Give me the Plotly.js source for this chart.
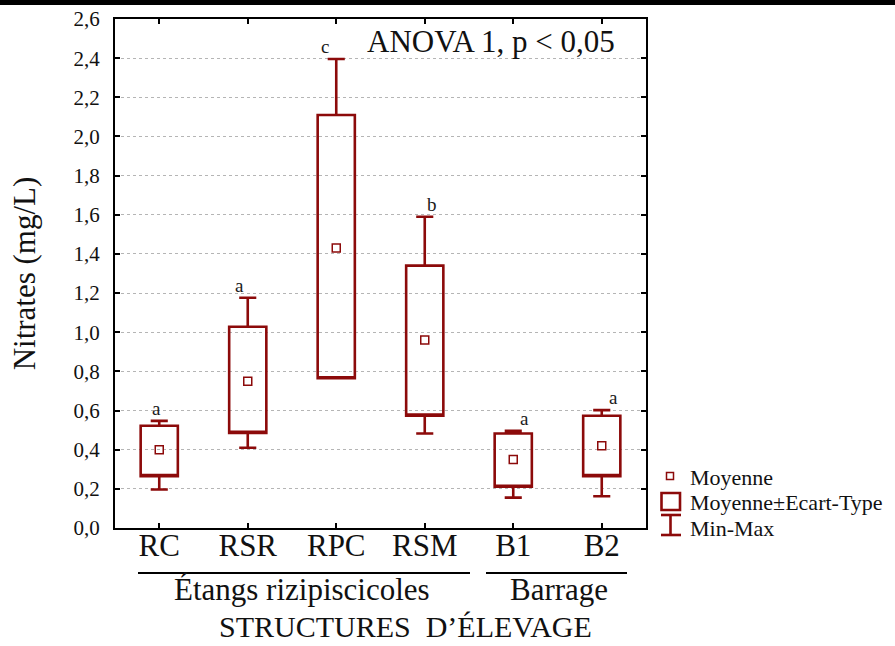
<!DOCTYPE html>
<html>
<head>
<meta charset="utf-8">
<script src="https://cdn.plot.ly/plotly-3.0.1.min.js"></script>
<style>
  html, body { margin: 0; padding: 0; background: #fff; }
  #chart { width: 895px; height: 646px; }
  #topbar { position: absolute; left: 0; top: 0; width: 895px; height: 5px; background: #000; z-index: 10; }
</style>
</head>
<body>
<div id="topbar"></div>
<div id="chart"></div>
<script>
// ---- data ----
const categories = ['RC', 'RSR', 'RPC', 'RSM', 'B1', 'B2'];
const meanVals   = [0.40, 0.75, 1.43, 0.96, 0.35, 0.42];
const sdLow      = [0.265, 0.486, 0.765, 0.574, 0.211, 0.265];
const sdHigh     = [0.522, 1.028, 2.11, 1.34, 0.483, 0.573];
const minVals    = [0.197, 0.41, 0.765, 0.483, 0.155, 0.162];
const maxVals    = [0.547, 1.176, 2.396, 1.59, 0.496, 0.602];
const letters    = ['a', 'a', 'c', 'b', 'a', 'a'];
const groupNames = ['Étangs rizipiscicoles', 'Barrage'];
const xTitle     = 'STRUCTURES  D’ÉLEVAGE';
const yTickVals  = [0, 0.2, 0.4, 0.6, 0.8, 1.0, 1.2, 1.4, 1.6, 1.8, 2.0, 2.2, 2.4, 2.6];

// ---- styling / layout helpers ----
const RED = '#8c0a0a';
const FONT = '"Liberation Serif", "Times New Roman", serif';
const W = 895, H = 646;
const M = {l: 115, r: 249, t: 19, b: 118};
const PW = W - M.l - M.r, PH = H - M.t - M.b;
const px = x => (x - M.l) / PW;          // pixel -> paper x
const py = y => (H - M.b - y) / PH;      // pixel -> paper y
const letterShift = [-3, -8, -11, 7, 11, 12];

const boxTrace = {
  type: 'box',
  x: categories,
  q1: sdLow,
  median: sdLow,
  q3: sdHigh,
  lowerfence: minVals,
  upperfence: maxVals,
  boxpoints: false,
  width: 0.42,
  whiskerwidth: 0.46,
  fillcolor: 'rgba(255,255,255,0)',
  line: {color: RED, width: 2.6},
  showlegend: false,
  hoverinfo: 'skip'
};

const meanTrace = {
  type: 'scatter',
  mode: 'markers',
  x: categories,
  y: meanVals,
  marker: {symbol: 'square-open', size: 8, color: RED, line: {width: 1.5, color: RED}},
  showlegend: false,
  hoverinfo: 'skip'
};

const annotations = categories.map((c, i) => ({
  x: c, y: maxVals[i], xref: 'x', yref: 'y',
  text: letters[i], showarrow: false,
  yanchor: 'bottom', xanchor: 'center', yshift: 0, xshift: letterShift[i],
  font: {family: FONT, size: 19, color: '#1a1a1a'}
}));

annotations.push({
  xref: 'paper', yref: 'paper', x: px(491), y: py(41),
  text: 'ANOVA 1, p &lt; 0,05', showarrow: false,
  xanchor: 'center', yanchor: 'middle',
  font: {family: FONT, size: 31, color: '#111'}
});
annotations.push({
  xref: 'paper', yref: 'paper', x: px(302), y: py(570),
  text: groupNames[0], showarrow: false, xanchor: 'center', yanchor: 'top',
  font: {family: FONT, size: 31, color: '#111'}
});
annotations.push({
  xref: 'paper', yref: 'paper', x: px(559), y: py(570),
  text: groupNames[1], showarrow: false, xanchor: 'center', yanchor: 'top',
  font: {family: FONT, size: 31, color: '#111'}
});
annotations.push({
  xref: 'paper', yref: 'paper', x: px(406), y: py(645),
  text: xTitle, showarrow: false, xanchor: 'center', yanchor: 'bottom',
  font: {family: FONT, size: 30, color: '#111'}
});
// legend texts
const legendTexts = ['Moyenne', 'Moyenne±Ecart-Type', 'Min-Max'];
const legendY = [477, 502, 528];
legendTexts.forEach((t, i) => annotations.push({
  xref: 'paper', yref: 'paper', x: px(688), y: py(legendY[i]),
  text: t, showarrow: false, xanchor: 'left', yanchor: 'middle',
  font: {family: FONT, size: 22, color: '#111'}
}));

const shapes = [
  // group lines
  {type: 'line', xref: 'paper', yref: 'paper', x0: px(138), x1: px(470), y0: py(573), y1: py(573), line: {color: '#000', width: 2}},
  {type: 'line', xref: 'paper', yref: 'paper', x0: px(486), x1: px(627), y0: py(573), y1: py(573), line: {color: '#000', width: 2}},
  // legend: mean square
  {type: 'rect', xref: 'paper', yref: 'paper', x0: px(666.5), x1: px(673.5), y0: py(479.5), y1: py(472.5), line: {color: RED, width: 1.5}},
  // legend: box
  {type: 'rect', xref: 'paper', yref: 'paper', x0: px(661.5), x1: px(680), y0: py(510), y1: py(493), line: {color: RED, width: 2.6}},
  // legend: whisker
  {type: 'line', xref: 'paper', yref: 'paper', x0: px(670.5), x1: px(670.5), y0: py(535), y1: py(515), line: {color: RED, width: 2.6}},
  {type: 'line', xref: 'paper', yref: 'paper', x0: px(661), x1: px(681), y0: py(515), y1: py(515), line: {color: RED, width: 2.6}},
  {type: 'line', xref: 'paper', yref: 'paper', x0: px(661), x1: px(681), y0: py(535), y1: py(535), line: {color: RED, width: 2.6}}
];

const layout = {
  width: W, height: H,
  margin: M,
  paper_bgcolor: '#fff', plot_bgcolor: '#fff',
  separators: ',.',
  showlegend: false,
  font: {family: FONT, color: '#111'},
  xaxis: {
    type: 'category',
    range: [-0.5, 5.5],
    showline: true, linecolor: '#000', linewidth: 2, mirror: 'ticks',
    ticks: 'inside', ticklen: 5, tickwidth: 2, tickcolor: '#000',
    showgrid: false, zeroline: false,
    tickfont: {family: FONT, size: 31, color: '#111'},
    ticklabelstandoff: -11,
    automargin: false, fixedrange: true
  },
  yaxis: {
    range: [0, 2.6],
    tickvals: yTickVals,
    tickformat: '.1f',
    showline: true, linecolor: '#000', linewidth: 2, mirror: 'ticks',
    ticks: 'inside', ticklen: 5, tickwidth: 2, tickcolor: '#000',
    showgrid: true, gridcolor: '#b5b5b5', gridwidth: 1, griddash: 'dot',
    zeroline: false,
    tickfont: {family: FONT, size: 21, color: '#111'},
    ticklabelstandoff: 9,
    title: {text: 'Nitrates (mg/L)', font: {family: FONT, size: 31, color: '#111'}, standoff: 29},
    automargin: false, fixedrange: true
  },
  annotations: annotations,
  shapes: shapes
};

Plotly.newPlot('chart', [boxTrace, meanTrace], layout, {staticPlot: true, displayModeBar: false});
</script>
</body>
</html>
